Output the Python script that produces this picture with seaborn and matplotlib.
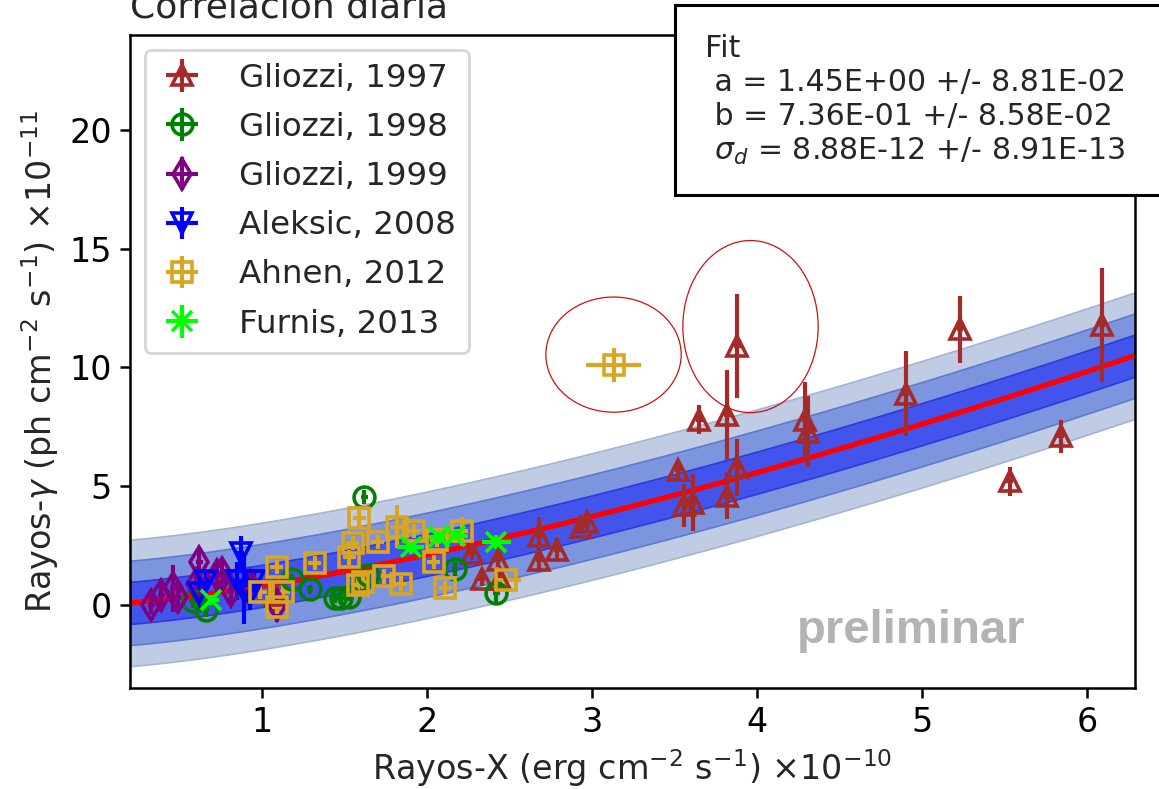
import numpy as np
import matplotlib
matplotlib.use("Agg")
import matplotlib.pyplot as plt
from matplotlib.patches import Ellipse, Rectangle
import seaborn as sns

# ---------------- data ----------------
# Gliozzi, 1997
g97_x = [6.09, 5.23, 4.90, 5.84, 5.53, 4.29, 4.31, 3.88, 3.82, 3.65, 3.88, 3.82, 3.52, 3.56, 3.61,
         2.93, 2.97, 2.68, 2.68, 2.79, 2.27, 2.43, 2.33, 2.44, 1.08]
g97_y = [11.8, 11.6, 8.9, 7.1, 5.2, 7.8, 7.3, 10.9, 8.0, 7.8, 5.8, 4.6, 5.7, 4.2, 4.3,
         3.3, 3.5, 2.9, 1.9, 2.3, 2.2, 1.9, 1.1, 1.1, 0.4]
g97_ye = [2.4, 1.4, 1.8, 0.7, 0.6, 1.6, 1.5, 2.2, 1.9, 0.6, 1.2, 1.0, 0.4, 0.9, 1.2,
          0.3, 0.3, 0.8, 0.5, 0.5, 0.3, 0.3, 0.3, 0.4, 0.8]
g97_xe = 0.02

# Gliozzi, 1998
g98_x = [1.62, 1.44, 1.48, 1.53, 1.29, 1.58, 1.18, 2.17, 2.42, 0.58, 0.66, 1.64]
g98_y = [4.55, 0.30, 0.30, 0.35, 0.65, 1.00, 1.10, 1.50, 0.50, 0.15, -0.20, 1.25]
g98_ye = [0.3, 0.2, 0.2, 0.2, 0.2, 0.2, 0.2, 0.3, 0.4, 0.3, 0.3, 0.2]
g98_xe = 0.02

# Gliozzi, 1999
g99_x = [0.33, 0.39, 0.46, 0.49, 0.62, 0.60, 0.73, 0.76, 0.81, 0.93, 1.09]
g99_y = [0.00, 0.40, 0.70, 0.35, 1.80, 0.90, 1.25, 1.35, 0.60, 0.85, 0.00]
g99_ye = [0.4, 0.7, 1.0, 0.5, 0.6, 0.4, 0.5, 0.6, 0.6, 0.5, 0.7]
g99_xe = 0.02

# Aleksic, 2008
ale_x = [0.62, 0.66, 0.85, 0.87, 0.89, 0.93, 0.95]
ale_y = [0.50, 1.00, 1.00, 2.20, 0.60, 0.40, 1.00]
ale_ye = [0.8, 0.4, 0.8, 0.7, 1.4, 0.6, 0.5]
ale_xe = 0.02

# Ahnen, 2012
ahn_x = [0.99, 1.09, 1.09, 1.13, 1.32, 1.53, 1.55, 1.59, 1.58, 1.61, 1.70, 1.74, 1.82, 1.84,
         1.92, 2.04, 2.06, 2.11, 2.21, 2.48, 3.13]
ahn_y = [0.55, 1.60, -0.10, 0.55, 1.75, 2.00, 2.60, 3.65, 0.85, 0.95, 2.65, 1.20, 3.30, 0.90,
         3.10, 1.80, 2.75, 0.70, 3.10, 1.05, 10.1]
ahn_ye = [0.3, 0.3, 0.3, 0.3, 0.3, 0.3, 0.3, 0.35, 0.3, 0.3, 0.3, 0.3, 0.9, 0.3,
          0.3, 0.3, 0.3, 0.3, 0.6, 0.3, 0.7]
ahn_xe = [0.04, 0.04, 0.04, 0.04, 0.04, 0.04, 0.04, 0.04, 0.04, 0.04, 0.04, 0.04, 0.04, 0.04,
          0.04, 0.04, 0.04, 0.04, 0.04, 0.09, 0.165]

# Furnis, 2013
fur_x = [0.69, 1.90, 2.07, 2.17, 2.42]
fur_y = [0.20, 2.45, 2.85, 2.90, 2.65]
fur_ye = [0.2, 0.3, 0.3, 0.3, 0.3]
fur_xe = [0.05, 0.08, 0.08, 0.08, 0.09]

# fit curve parameters (as drawn) and band width sigma_d
fit_c, fit_p = 0.80, 1.40
sigma_d = 0.888

fit_lines = ("Fit\n a = 1.45E+00 +/- 8.81E-02\n b = 7.36E-01 +/- 8.58E-02\n"
             " $\\sigma_d$ = 8.88E-12 +/- 8.91E-13")

# ---------------- style ----------------
sns.set_theme(style="ticks")
plt.rcParams["font.family"] = ["DejaVu Sans"]
plt.rcParams["font.size"] = 10
plt.rcParams["mathtext.fontset"] = "dejavusans"

W, H, DPI = 1159, 789, 200
fig = plt.figure(figsize=(W / DPI, H / DPI), dpi=DPI)
fig.patch.set_facecolor("white")
ax = fig.add_axes([130 / W, 1 - 688 / H, 1005 / W, 653 / H])
ax.set_facecolor("white")

xlo, xhi = 0.2, 6.29
xx = np.linspace(xlo, xhi, 300)
yy = fit_c * xx ** fit_p

ax.fill_between(xx, yy - 3 * sigma_d, yy + 3 * sigma_d, color="#bfcce4",
                edgecolor="#a3b4d4", lw=0.6, zorder=1)
ax.fill_between(xx, yy - 2 * sigma_d, yy + 2 * sigma_d, color="#7d95de",
                edgecolor="#6079d0", lw=0.6, zorder=1)
ax.fill_between(xx, yy - sigma_d, yy + sigma_d, color="#4354ec",
                edgecolor="#2c3bdc", lw=0.6, zorder=1)
sns.lineplot(x=xx, y=yy, color="red", lw=1.9, ax=ax, zorder=2)

common = dict(ls="none", ms=7.5, mfc="none", mew=1.3, elinewidth=1.5, capsize=0, zorder=3)
ax.errorbar(g97_x, g97_y, yerr=g97_ye, xerr=g97_xe, fmt="^", color="#a52a2a",
            label="Gliozzi, 1997", **common)
ax.errorbar(g98_x, g98_y, yerr=g98_ye, xerr=g98_xe, fmt="o", color="green",
            label="Gliozzi, 1998", **common)
ax.errorbar(g99_x, g99_y, yerr=g99_ye, xerr=g99_xe, fmt="d", color="purple",
            label="Gliozzi, 1999", **common)
ax.errorbar(ale_x, ale_y, yerr=ale_ye, xerr=ale_xe, fmt="v", color="blue",
            label="Aleksic, 2008", **common)
ax.errorbar(ahn_x, ahn_y, yerr=ahn_ye, xerr=ahn_xe, fmt="s", color="goldenrod",
            label="Ahnen, 2012", **common)
ax.errorbar(fur_x, fur_y, yerr=fur_ye, xerr=fur_xe, fmt="x", color="lime",
            label="Furnis, 2013", **common)

ax.set_xlim(xlo, xhi)
ax.set_ylim(-3.5, 24.0)
ax.set_xticks([1, 2, 3, 4, 5, 6])
ax.set_yticks([0, 5, 10, 15, 20])
for s in ax.spines.values():
    s.set_color("black")
    s.set_linewidth(0.9)
ax.tick_params(axis="both", labelsize=12, colors="black", length=3.5, width=0.9, pad=3)

ax.set_xlabel("Rayos-X (erg cm$^{-2}$ s$^{-1}$) $\\times 10^{-10}$", fontsize=12, labelpad=3)
ax.set_ylabel("Rayos-$\\gamma$ (ph cm$^{-2}$ s$^{-1}$) $\\times 10^{-11}$", fontsize=12, labelpad=3)
ax.set_title("Correlación diaria", loc="left", fontsize=13)

leg = ax.legend(loc="upper left", fontsize=11.7, frameon=True, handlelength=1.5,
                borderaxespad=0.45, labelspacing=0.56, handletextpad=1.0)
leg.get_frame().set_edgecolor("0.8")

# annotation ellipses
ax.add_patch(Ellipse((3.13, 10.54), 0.82, 4.85, fill=False, edgecolor="#cc1111", lw=0.45, zorder=5))
ax.add_patch(Ellipse((3.96, 11.72), 0.82, 7.25, fill=False, edgecolor="#cc1111", lw=0.45, zorder=5))

# watermark
fig.text(797 / W, 1 - 643 / H, "preliminar", fontsize=17, fontweight="bold",
         family=["Liberation Sans", "DejaVu Sans"], color="#b3b3b3", ha="left", va="baseline")

# fit box
fig.patches.append(Rectangle((675 / W, 1 - 195 / H), (1175 - 675) / W, 190 / H,
                             transform=fig.transFigure, facecolor="white",
                             edgecolor="black", lw=1.1, zorder=10))
fig.text(705 / W, 1 - 34 / H, fit_lines, fontsize=10.8, ha="left", va="top",
         linespacing=1.22, zorder=11)

fig.savefig("out.png", dpi=DPI)
